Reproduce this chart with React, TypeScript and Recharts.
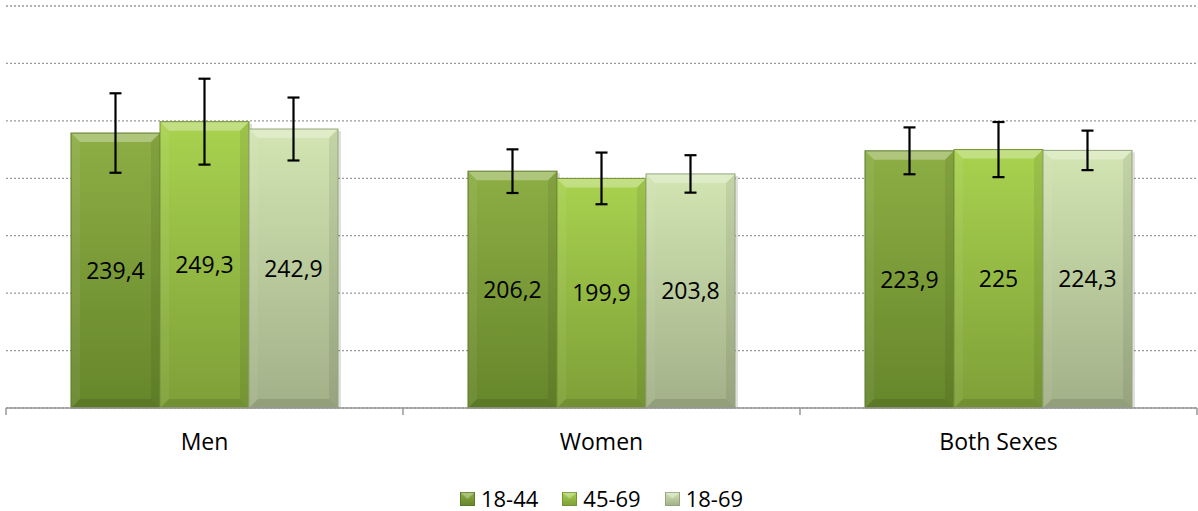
import React from "react";
import { BarChart, Bar, XAxis, YAxis, CartesianGrid, Legend, ErrorBar, LabelList } from "recharts";

const categories = ["Men", "Women", "Both Sexes"];
const seriesNames = ["18-44", "45-69", "18-69"];
const values1844 = [239.4, 206.2, 223.9];
const values4569 = [249.3, 199.9, 225];
const values1869 = [242.9, 203.8, 224.3];
const err1844 = [34.6, 19.0, 20.4];
const err4569 = [37.4, 22.5, 24.0];
const err1869 = [27.4, 16.3, 17.2];
const yTicks = [0, 50, 100, 150, 200, 250, 300, 350];

const data = categories.map((name, i) => ({
  name,
  a: values1844[i],
  b: values4569[i],
  c: values1869[i],
  ea: err1844[i],
  eb: err4569[i],
  ec: err1869[i],
}));

const palette = [
  { key: "a", err: "ea", top: "#8dae44", bottom: "#66862b", edge: "#5b7a27" },
  { key: "b", err: "eb", top: "#a9d24f", bottom: "#7e9f38", edge: "#749434" },
  { key: "c", err: "ec", top: "#d2e5b2", bottom: "#a2b088", edge: "#96a47e" },
];

const FONT = "'Open Sans', sans-serif";

const fmt = (v: any) => String(v).replace(".", ",");

const BevelBar = (props: any) => {
  const { x, y, width, height, index, top, bottom, edge, sid } = props;
  if (!height || height <= 0) return null;
  const b = 9;
  const gid = `bar-${sid}-${index}`;
  const r = x + width;
  const yb = y + height;
  return (
    <g>
      <defs>
        <linearGradient id={gid} x1="0" y1="0" x2="0" y2="1">
          <stop offset="0%" stopColor={top} />
          <stop offset="100%" stopColor={bottom} />
        </linearGradient>
      </defs>
      <rect x={x + 2} y={y + 2} width={width + 1} height={height - 2} fill="#000" opacity={0.12} />
      <rect x={x} y={y} width={width} height={height} fill={`url(#${gid})`} />
      <polygon points={`${x},${y} ${r},${y} ${r - b},${y + b} ${x + b},${y + b}`} fill="#fff" opacity={0.3} />
      <polygon points={`${x},${y} ${x + b},${y + b} ${x + b},${yb - b} ${x},${yb}`} fill="#fff" opacity={0.06} />
      <polygon points={`${r},${y} ${r},${yb} ${r - b},${yb - b} ${r - b},${y + b}`} fill="#000" opacity={0.07} />
      <polygon points={`${x},${yb} ${r},${yb} ${r - b},${yb - b} ${x + b},${yb - b}`} fill="#000" opacity={0.1} />
      <rect x={x} y={y} width={width} height={height} fill="none" stroke={edge} strokeWidth={1} />
    </g>
  );
};

const CategoryTick = (props: any) => {
  const { x, y, payload, index, width } = props;
  const band = (width || 1191) / categories.length;
  const left = x - band / 2;
  return (
    <g>
      <line x1={left} y1={y} x2={left} y2={y + 7} stroke="#999" strokeWidth={1.5} />
      {index === categories.length - 1 && (
        <line x1={left + band} y1={y} x2={left + band} y2={y + 7} stroke="#999" strokeWidth={1.5} />
      )}
      <text x={x} y={y + 42} textAnchor="middle" fill="#000" fontSize={23} fontFamily={FONT}>
        {payload.value}
      </text>
    </g>
  );
};

const LegendContent = () => (
  <div
    style={{
      display: "flex",
      justifyContent: "center",
      alignItems: "center",
      height: 40,
      paddingTop: 13,
      boxSizing: "border-box",
      fontFamily: FONT,
      fontSize: 22,
      lineHeight: "22px",
      color: "#000",
    }}
  >
    {palette.map((p, i) => (
      <div key={p.key} style={{ display: "flex", alignItems: "center", marginRight: i < 2 ? 24 : 0 }}>
        <svg width={15} height={14} style={{ marginRight: 6, marginTop: 3 }}>
          <defs>
            <linearGradient id={`leg-${i}`} x1="0" y1="0" x2="0" y2="1">
              <stop offset="0%" stopColor={p.top} />
              <stop offset="100%" stopColor={p.bottom} />
            </linearGradient>
          </defs>
          <rect x={0.5} y={0.5} width={14} height={13} fill={`url(#leg-${i})`} stroke={p.edge} />
          <polygon points="0.5,0.5 14.5,0.5 7.5,7 " fill="#fff" opacity={0.3} />
        </svg>
        <span>{seriesNames[i]}</span>
      </div>
    ))}
  </div>
);

export default function App() {
  return (
    <div style={{ position: "absolute", left: 0, top: 0, background: "#fff" }}>
      <BarChart
        width={1198}
        height={511}
        data={data}
        margin={{ top: 6, right: 1, left: 6, bottom: 0 }}
        barCategoryGap={65}
        barGap={0}
      >
        <CartesianGrid vertical={false} stroke="#999" strokeDasharray="2 2" strokeWidth={1.3} />
        <XAxis
          dataKey="name"
          height={63}
          axisLine={{ stroke: "#999", strokeWidth: 1.5 }}
          tickLine={false}
          tickSize={0}
          tickMargin={0}
          tick={<CategoryTick />}
          interval={0}
        />
        <YAxis hide domain={[0, 350]} ticks={yTicks} />
        <Legend verticalAlign="bottom" height={40} content={<LegendContent />} />
        {palette.map((p, i) => (
          <Bar
            key={p.key}
            dataKey={p.key}
            name={seriesNames[i]}
            fill={p.top}
            isAnimationActive={false}
            shape={(sp: any) => <BevelBar {...sp} top={p.top} bottom={p.bottom} edge={p.edge} sid={p.key} />}
          >
            <ErrorBar dataKey={p.err} width={6} strokeWidth={2.2} stroke="#000" direction="y" isAnimationActive={false} />
            <LabelList
              dataKey={p.key}
              position="center"
              formatter={fmt}
              fill="#000"
              fontSize={23}
              fontFamily={FONT}
            />
          </Bar>
        ))}
      </BarChart>
    </div>
  );
}
